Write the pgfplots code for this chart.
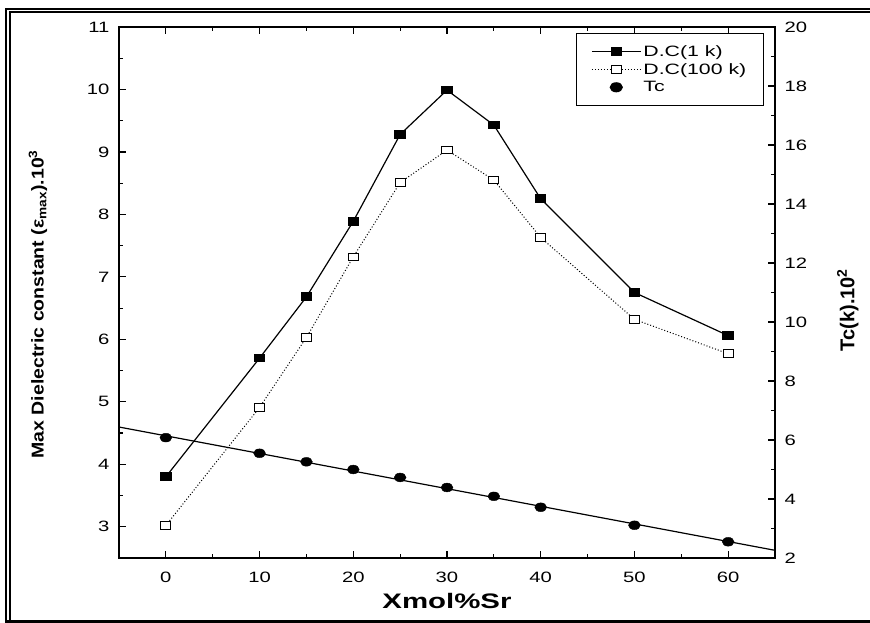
\documentclass[border=0pt]{standalone}
\usepackage{pgfplots}
\pgfplotsset{compat=1.18}
\usepackage{fontspec}
\setmainfont{Liberation Sans}
\pgfplotstableread{
x y
0 3.80
10 5.70
15 6.68
20 7.89
25 9.28
30 9.99
35 9.43
40 8.25
50 6.75
60 6.06
}\dcone
\pgfplotstableread{
x y
0 3.02
10 4.91
15 6.03
20 7.32
25 8.51
30 9.03
35 8.55
40 7.63
50 6.32
60 5.77
}\dchund
\pgfplotstableread{
x y
0 6.08
10 5.55
15 5.26
20 5.00
25 4.73
30 4.39
35 4.09
40 3.72
50 3.11
60 2.55
}\tc
\begin{document}
\begin{tikzpicture}
\useasboundingbox (0pt,0pt) rectangle (870pt,623pt);
\draw[line width=2pt] (6pt,0pt) -- (6pt,614pt) -- (870pt,614pt);
\draw[line width=2pt] (10pt,1.5pt) -- (10pt,610.5pt) -- (870pt,610.5pt);
\draw[line width=2.5pt] (5pt,1.5pt) -- (870pt,1.5pt);
\pgfplotsset{
  common/.style={
    at={(119pt,65pt)}, anchor=south west, scale only axis,
    width=656pt, height=531pt,
    xmin=-5, xmax=65,
    tick align=inside,
    major tick length=7pt, minor tick length=4pt,
    axis line style={line width=1.6pt},
    every tick/.style={line width=1.2pt, black},
    /pgf/number format/assume math mode=true,
    ticklabel style={font=\fontsize{15}{15}\selectfont},
  }
}
\begin{axis}[common,
  ymin=2.5, ymax=11,
  xtick={0,10,...,60}, minor x tick num=1,
  ytick={3,...,11}, minor y tick num=1,
  xtick pos=both, ytick pos=left,
  xticklabel={\scalebox{1.35}[1]{\pgfmathprintnumber{\tick}}},
  yticklabel={\scalebox{1.35}[1]{\pgfmathprintnumber{\tick}}},
  xticklabel style={yshift=-10pt},
  yticklabel style={xshift=-6pt},
  xlabel={\fontsize{21}{21}\selectfont\scalebox{1.4}[1]{\bfseries Xmol\%Sr}},
  xlabel style={at={(axis description cs:0.5,-0.081)}, anchor=center},
  ylabel={\fontsize{19.5}{19.5}\selectfont\scalebox{1}[0.88]{\bfseries Max Dielectric constant (ε\textsubscript{max}).10\textsuperscript{3}}},
  ylabel style={at={(axis description cs:-0.1235,0.478)}, anchor=center},
]
\addplot[black, line width=1.2pt, mark=square*, mark size=3.8pt, mark options={solid, xscale=1.35, fill=black}] table {\dcone};
\addplot[black, line width=1pt, dash pattern=on 1pt off 2pt, mark=square*, mark size=3.8pt, mark options={solid, xscale=1.35, fill=white, line width=1pt}] table {\dchund};
\end{axis}
\begin{axis}[common,
  ymin=2, ymax=20,
  hide x axis,
  ytick={2,4,...,20}, minor y tick num=1,
  ytick pos=right,
  yticklabel={\scalebox{1.35}[1]{\pgfmathprintnumber{\tick}}},
  yticklabel style={xshift=6pt},
  ylabel={\fontsize{20}{20}\selectfont\bfseries Tc(k).10\textsuperscript{2}},
  ylabel style={at={(axis description cs:1.111,0.467)}, anchor=center, rotate=0},
  legend style={at={(axis description cs:1,1)}, anchor=north east, xshift=-11pt, yshift=-6pt,
    draw=black, line width=1.3pt, font=\fontsize{15}{15}\selectfont,
    inner xsep=15pt, inner ysep=10pt, row sep=1.5pt},
  legend cell align=left,
  legend image code/.code={\draw[mark repeat=2, mark phase=2] plot coordinates {(0pt,0pt) (24.5pt,0pt) (49pt,0pt)};},
]
\addlegendimage{black, line width=1.2pt, mark=square*, mark size=3.8pt, mark options={solid, xscale=1.35, fill=black}}
\addlegendentry{\scalebox{1.42}[1]{D.C(1 k)}}
\addlegendimage{black, line width=1pt, dash pattern=on 1pt off 2pt, mark=square*, mark size=3.8pt, mark options={solid, xscale=1.35, fill=white, line width=1pt}}
\addlegendentry{\scalebox{1.42}[1]{D.C(100 k)}}
\addplot[black, line width=1.2pt, forget plot] coordinates {(-5,6.44) (65,2.26)};
\addplot[only marks, black, mark=*, mark size=4.4pt, mark options={xscale=1.35, fill=black}] table {\tc};
\addlegendentry{\scalebox{1.42}[1]{Tc}}
\end{axis}
\end{tikzpicture}
\end{document}
